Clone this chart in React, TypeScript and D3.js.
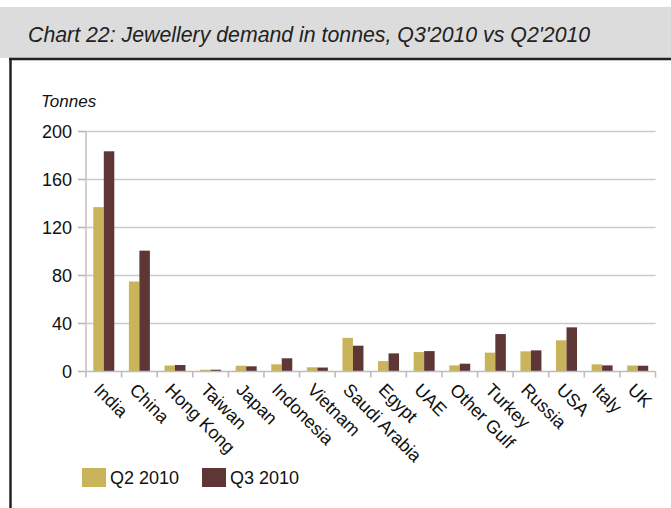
import React from "react";
import * as d3 from "d3";

const categories = ["India", "China", "Hong Kong", "Taiwan", "Japan", "Indonesia", "Vietnam", "Saudi Arabia", "Egypt", "UAE", "Other Gulf", "Turkey", "Russia", "USA", "Italy", "UK"];
const q2Values = [137, 75, 5, 1.5, 4.8, 6, 3.5, 28, 8.7, 16.2, 5.1, 15.7, 16.8, 26, 6, 5];
const q3Values = [183.5, 100.7, 5.4, 1.5, 4.3, 11, 3.3, 21.5, 15.1, 17, 6.5, 31.2, 17.6, 36.8, 5.1, 4.8];
const seriesNames = ["Q2 2010", "Q3 2010"];
const yTicks = [0, 40, 80, 120, 160, 200];

const W = 671, H = 508;
const plotL = 86, plotR = 655.5, plotT = 131.5, plotB = 371.5;
const colors = ["#c9b45c", "#5e3636"];
const font = "'Liberation Sans', Arial, sans-serif";

export default function App() {
  const x0 = d3.scaleBand<string>().domain(categories).range([plotL, plotR]).paddingInner(0.41).paddingOuter(0.205);
  const x1 = d3.scaleBand<string>().domain(seriesNames).range([0, x0.bandwidth()]);
  const y = d3.scaleLinear().domain([0, 200]).range([plotB, plotT]);
  const step = x0.step();
  const bandStart = (c: string) => plotL + categories.indexOf(c) * step;
  const series = [q2Values, q3Values];

  return (
    <svg width={W} height={H} style={{ position: "absolute", left: 0, top: 0, background: "#fff" }}>
      <rect x={0} y={7} width={W} height={51} fill="#dcdcdc" />
      <text x={28} y={42} fontFamily={font} fontStyle="italic" fontSize={21.3} fill="#222">
        Chart 22: Jewellery demand in tonnes, Q3'2010 vs Q2'2010
      </text>
      <line x1={9} x2={W} y1={59} y2={59} stroke="#222" strokeWidth={2.5} />
      <line x1={10.5} x2={10.5} y1={58} y2={H} stroke="#222" strokeWidth={2.5} />

      <text x={41} y={107} fontFamily={font} fontStyle="italic" fontSize={17} fill="#111">Tonnes</text>

      {yTicks.map((t) => (
        <g key={t}>
          {t > 0 && <line x1={plotL} x2={plotR} y1={y(t)} y2={y(t)} stroke="#cbcbcb" strokeWidth={1.6} />}
          <line x1={78} x2={plotL} y1={y(t)} y2={y(t)} stroke="#b8b8b8" strokeWidth={1.6} />
          <text x={72} y={y(t) + 6.3} textAnchor="end" fontFamily={font} fontSize={18} fill="#111">{t}</text>
        </g>
      ))}
      <line x1={plotL} x2={plotL} y1={plotT} y2={plotB} stroke="#c4c4c4" strokeWidth={1.6} />

      {categories.map((c, i) => (
        <g key={c}>
          {series.map((vals, s) => (
            <rect
              key={s}
              x={(x0(c) as number) + (x1(seriesNames[s]) as number)}
              y={y(vals[i])}
              width={x1.bandwidth()}
              height={plotB - y(vals[i])}
              fill={colors[s]}
            />
          ))}
        </g>
      ))}

      <line x1={plotL} x2={plotR} y1={plotB} y2={plotB} stroke="#bdbdbd" strokeWidth={1.6} />
      {categories.concat(["__end"]).map((c, i) => (
        <line key={"t" + i} x1={plotL + i * step} x2={plotL + i * step} y1={plotB} y2={plotB + 6} stroke="#bdbdbd" strokeWidth={1.6} />
      ))}

      {categories.map((c) => {
        const cx = bandStart(c) + step / 2;
        return (
          <text key={"l" + c} transform={`translate(${cx - 11},${391}) rotate(45)`} fontFamily={font} fontSize={18} fill="#111">
            {c}
          </text>
        );
      })}

      {seriesNames.map((n, s) => (
        <g key={n} transform={`translate(${82 + s * 120},468)`}>
          <rect x={0} y={0} width={24} height={19} fill={colors[s]} />
          <text x={28} y={16} fontFamily={font} fontSize={18} fill="#111">{n}</text>
        </g>
      ))}
    </svg>
  );
}
